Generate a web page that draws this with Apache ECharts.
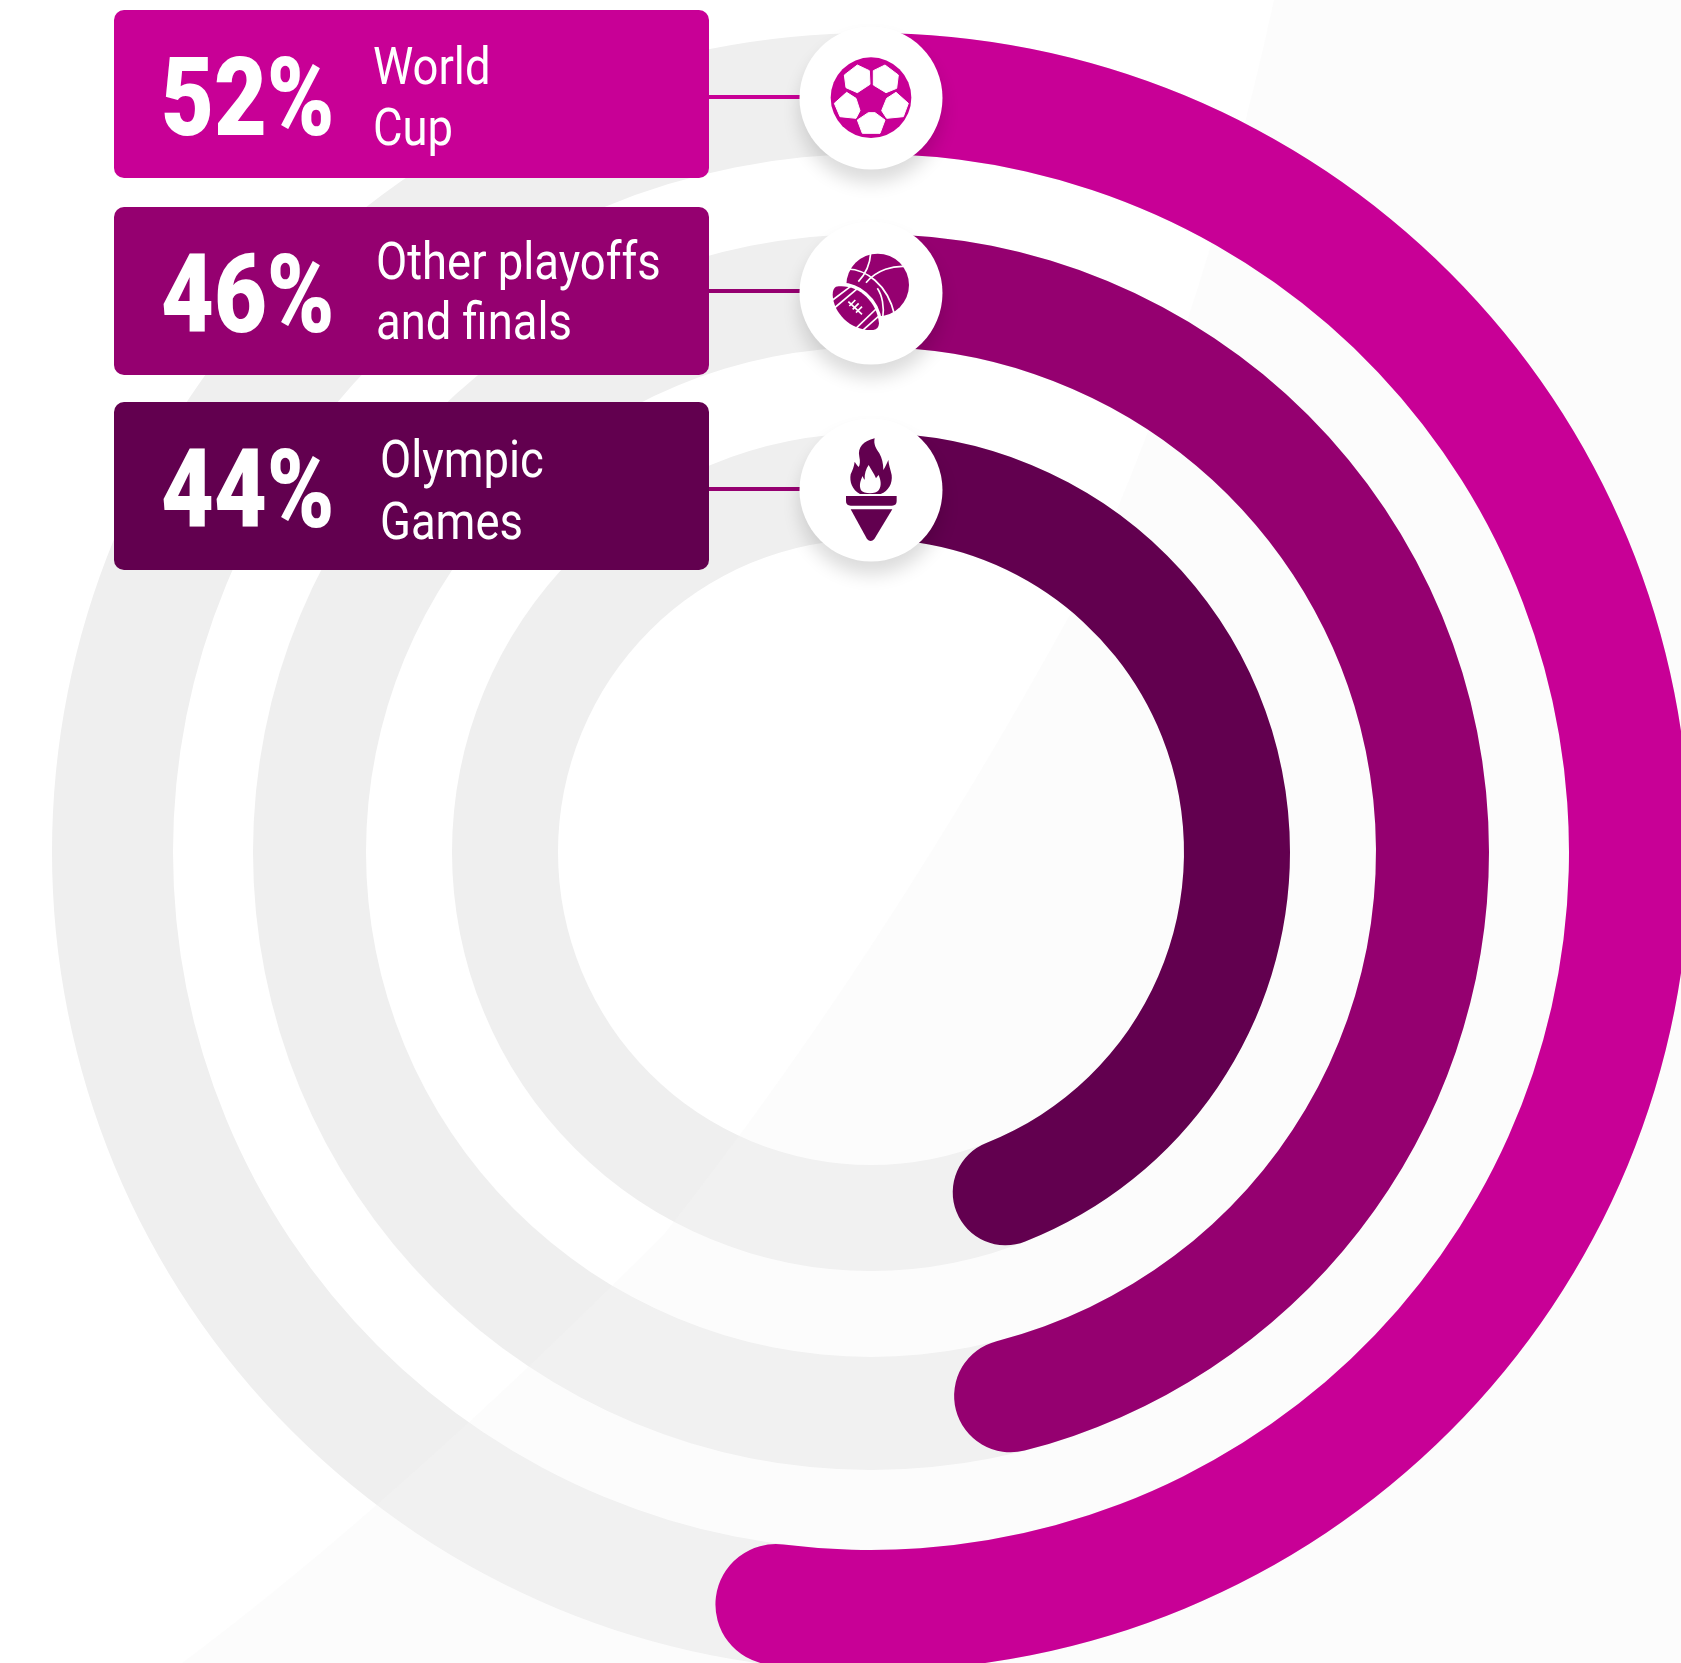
<!DOCTYPE html>
<html>
<head>
<meta charset="utf-8">
<style>html,body{margin:0;padding:0;background:#fff;overflow:hidden}#chart{width:1681px;height:1663px}</style>
<script src="https://cdn.jsdelivr.net/npm/echarts@6/dist/echarts.min.js"></script>
</head>
<body>
<div id="chart"></div>
<script>
// Share of viewers by event type
const categories = ['World Cup', 'Other playoffs and finals', 'Olympic Games'];
const shares = [52, 46, 44];
const labelLines = [['World', 'Cup'], ['Other playoffs', 'and finals'], ['Olympic', 'Games']];

// Visual styling and layout
const colors = ['#c80096', '#950070', '#62004f'];
const lineColors = ['#c80096', '#950070', '#950070'];
const cx = 871, cy = 852;
const ringOuter = [819, 618, 419];
const ringWidth = [121, 113, 106];
const cardTop = [10, 207, 402];
const badgeY = [98, 293, 490];
const iconTop = [20, 220, 415];
const lineY = [97, 291, 489];
const numberY = [107, 304, 499];
const labelY = [[71, 132], [266, 326], [464, 526]];
const labelX = [373, 376, 380];

const chart = echarts.init(document.getElementById('chart'), null, {renderer: 'canvas'});

function ringBase(i) {
  return {
    type: 'gauge', silent: true, animation: false,
    center: [cx, cy], radius: ringOuter[i],
    startAngle: 90, endAngle: -270, min: 0, max: 100,
    pointer: {show: false}, anchor: {show: false},
    axisTick: {show: false}, splitLine: {show: false}, axisLabel: {show: false},
    title: {show: false}, detail: {show: false}
  };
}
const series = [];
categories.forEach((name, i) => {
  // grey full-circle track
  series.push(Object.assign(ringBase(i), {
    z: 1, name: name + ' track',
    progress: {show: false},
    axisLine: {lineStyle: {width: ringWidth[i], color: [[1, '#efefef']]}},
    data: [{value: 100}]
  }));
  // coloured share arc
  series.push(Object.assign(ringBase(i), {
    z: 3, name: name,
    axisLine: {show: false, lineStyle: {width: ringWidth[i]}},
    progress: {show: true, width: ringWidth[i], roundCap: true, itemStyle: {color: colors[i]}},
    data: [{value: shares[i]}]
  }));
});

// The graphic component has no generic path type, so each outline becomes a registered shape
let shapeCount = 0;
function pathType(d) {
  const name = 'outline' + (++shapeCount);
  echarts.graphic.registerShape(name, echarts.graphic.extendPath(d, {}));
  return name;
}
const p = (d, fill, extra) => ({
  type: pathType(d), shape: {},
  style: Object.assign({fill: fill || 'none'}, extra || {})
});

// Icons are drawn in a 180x170 box over each badge, at three times final size
function iconGroup(i, children) {
  return {
    type: 'group', x: cx - 91, y: iconTop[i], scaleX: 1 / 3, scaleY: 1 / 3, z: 14,
    children: children.map(c => Object.assign({z: 14, silent: true}, c))
  };
}
const ballPatches = [
  'M193,165 L232,135 L268,152 L270,193 L232,218 L198,203 Z',
  'M280,152 L315,135 L355,165 L350,205 L318,218 L280,195 Z',
  'M163,250 L200,217 L228,235 L240,272 L228,295 L180,290 Z',
  'M305,272 L320,235 L348,217 L385,250 L370,290 L320,295 Z',
  'M232,300 L265,278 L285,278 L315,300 L300,340 L247,340 Z'
];
const soccer = [
  {type: 'circle', shape: {cx: 273, cy: 233, r: 121}, style: {fill: colors[0]}}
].concat(ballPatches.map(d => p(d, '#fff', {stroke: '#fff', lineWidth: 3, lineJoin: 'round'})));

const seam = {stroke: '#fff', lineWidth: 5, fill: 'none', lineCap: 'butt'};
const football = 'M168,200 C230,190 290,240 297,310 Q296,328 280,330 C215,335 160,280 158,225 Q158,205 168,200 Z';
const balls = [
  {type: 'circle', shape: {cx: 293, cy: 195, r: 94}, style: {fill: colors[1]}},
  p('M272,100 C270,135 258,160 235,185', null, seam),
  p('M203,147 C255,148 322,190 344,285', null, seam),
  p('M258,188 C290,150 340,135 384,140', null, seam),
  p('M292,205 C306,225 314,260 308,297', null, seam),
  // white halo separates the football from the basketball
  p(football, '#fff', {stroke: '#fff', lineWidth: 20, lineJoin: 'round'}),
  p(football, colors[1]),
  p('M158,240 L216,196', null, seam),
  p('M163,264 L233,205', null, seam),
  p('M227,326 L288,267', null, seam),
  p('M248,331 L298,287', null, seam),
  p('M205,245 L246,283', null, seam),
  p('M226,240 L208,258 M236,250 L218,268 M246,260 L228,278', null, seam)
];

const torch = [
  p('M284,70 C250,78 232,98 238,125 C241,138 240,150 236,156 C230,150 226,143 224,140 C222,155 218,165 212,178 C208,200 216,225 240,237 L302,237 C326,228 338,205 335,180 C332,165 326,150 325,135 C320,146 316,156 310,165 C310,145 306,130 298,115 C288,100 280,88 284,70 Z', colors[2]),
  p('M266,150 C274,165 282,175 288,190 C292,184 294,182 296,180 C302,195 306,212 296,226 C288,238 252,238 243,226 C236,210 242,195 248,183 C250,190 252,192 254,194 C253,175 258,162 266,150 Z', '#fff'),
  p('M198,243 L350,243 L350,258 Q350,272 336,272 L212,272 Q198,272 198,258 Z', colors[2]),
  p('M212,283 L337,283 L283,372 Q272,384 261,372 Z', colors[2])
];
const icons = [soccer, balls, torch];

const graphics = [];
// faint sweep across the lower right, above the tracks and below the arcs
graphics.push(Object.assign(
  p('M1274,0 Q1200,340 1072,611 Q880,960 665,1233 Q400,1500 182,1663 L1681,1663 L1681,0 Z', 'rgba(245,245,245,0.31)'),
  {z: 2, silent: true}
));

categories.forEach((name, i) => {
  // connector between card and badge
  graphics.push({
    type: 'line', z: 11, silent: true,
    shape: {x1: 705, y1: lineY[i], x2: 805, y2: lineY[i]},
    style: {stroke: lineColors[i], lineWidth: 4}
  });
  // badge
  graphics.push({
    type: 'circle', z: 12, silent: true,
    shape: {cx: cx, cy: badgeY[i], r: 71.5},
    style: {fill: '#fff', shadowBlur: 18, shadowOffsetY: 13, shadowColor: 'rgba(0,0,0,0.14)'}
  });
  graphics.push(iconGroup(i, icons[i]));
  // card
  graphics.push({
    type: 'rect', z: 12, silent: true,
    shape: {x: 114, y: cardTop[i], width: 595, height: 168, r: 10},
    style: {fill: colors[i]}
  });
  graphics.push({
    type: 'text', z: 13, silent: true, x: 161, y: numberY[i], scaleX: 0.83,
    style: {text: shares[i] + '%', fill: '#fff', font: '900 110px Roboto', align: 'left', verticalAlign: 'middle'}
  });
  labelLines[i].forEach((line, j) => {
    graphics.push({
      type: 'text', z: 13, silent: true, x: labelX[i], y: labelY[i][j], scaleX: 0.873,
      style: {text: line, fill: '#fff', font: '400 52px Roboto', align: 'left', verticalAlign: 'middle'}
    });
  });
});

chart.setOption({
  animation: false,
  backgroundColor: '#ffffff',
  series: series,
  graphic: {elements: graphics}
});
</script>
</body>
</html>
